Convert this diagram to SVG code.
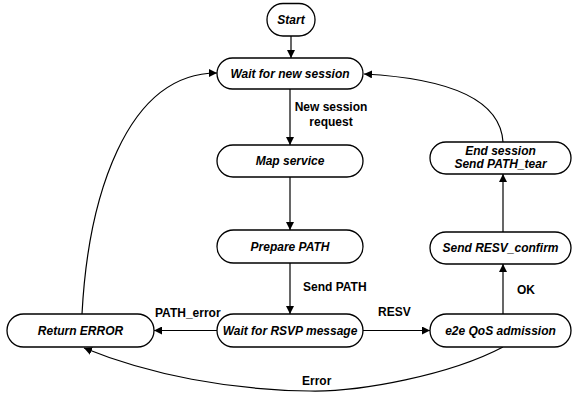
<svg xmlns="http://www.w3.org/2000/svg" width="572" height="395" viewBox="0 0 572 395">
  <style>
    .node rect { fill: #ffffff; stroke: #000000; stroke-width: 1.3; }
    .node text { font-family: "Liberation Sans", Arial, sans-serif; font-size: 12px; font-weight: bold; font-style: italic; text-anchor: middle; fill: #000000; }
    .edge { fill: none; stroke: #000000; stroke-width: 1.2; marker-end: url(#arrow); }
    .label { font-family: "Liberation Sans", Arial, sans-serif; font-size: 12px; font-weight: bold; fill: #000000; }
  </style>
  <defs>
    <marker id="arrow" viewBox="0 0 10 10" refX="10" refY="5" markerWidth="8" markerHeight="8" markerUnits="userSpaceOnUse" orient="auto">
      <path d="M0,0 L10,5 L0,10 Z" fill="#000000"/>
    </marker>
  </defs>
  <rect width="572" height="395" fill="#ffffff"/>

  <g id="connectors">
    <path class="edge" d="M291,36 L291,58"/>
    <path class="edge" d="M290,89 L290,145"/>
    <path class="edge" d="M290,177 L290,230"/>
    <path class="edge" d="M290,263 L290,314"/>
    <path class="edge" d="M217,330.5 L154,330.5"/>
    <path class="edge" d="M363,330.5 L430,330.5"/>
    <path class="edge" d="M503,314 L503,264"/>
    <path class="edge" d="M503,232 L503,174"/>
    <path class="edge" d="M503,142 C500,95 440,78 364,74"/>
    <path class="edge" d="M82,314 C88,200 125,73 217,73"/>
    <path class="edge" d="M503,347 C450,375 360,392 310,391 C230,390 150,375 84,348"/>
    <text class="label" x="331" y="111" text-anchor="middle">New session</text>
    <text class="label" x="331" y="126" text-anchor="middle">request</text>
    <text class="label" x="303" y="291">Send PATH</text>
    <text class="label" x="155" y="317">PATH_error</text>
    <text class="label" x="378" y="316">RESV</text>
    <text class="label" x="517" y="294">OK</text>
    <text class="label" x="302" y="385">Error</text>
  </g>

  <g id="start" class="node">
    <rect x="267" y="3.5" width="48" height="32.5" rx="16"/>
    <text x="291" y="24">Start</text>
  </g>
  <g id="wait-session" class="node">
    <rect x="217" y="58" width="146" height="31" rx="15.5"/>
    <text x="290" y="78">Wait for new session</text>
  </g>
  <g id="map-service" class="node">
    <rect x="217" y="145" width="146" height="32" rx="16"/>
    <text x="290" y="165">Map service</text>
  </g>
  <g id="prepare-path" class="node">
    <rect x="217" y="230" width="146" height="33" rx="16.5"/>
    <text x="290" y="251">Prepare PATH</text>
  </g>
  <g id="wait-rsvp" class="node">
    <rect x="217" y="314" width="146" height="33" rx="16.5"/>
    <text x="290" y="335">Wait for RSVP message</text>
  </g>
  <g id="return-error" class="node">
    <rect x="7" y="314" width="147" height="33" rx="16.5"/>
    <text x="80.5" y="335">Return ERROR</text>
  </g>
  <g id="qos-admission" class="node">
    <rect x="430" y="314" width="141" height="33" rx="16.5"/>
    <text x="500.5" y="335">e2e QoS admission</text>
  </g>
  <g id="send-resv-confirm" class="node">
    <rect x="430" y="232" width="141" height="32" rx="16"/>
    <text x="500.5" y="252">Send RESV_confirm</text>
  </g>
  <g id="end-session" class="node">
    <rect x="430" y="142" width="141" height="32" rx="16"/>
    <text x="500.5" y="155">End session</text>
    <text x="500.5" y="168">Send PATH_tear</text>
  </g>
</svg>
